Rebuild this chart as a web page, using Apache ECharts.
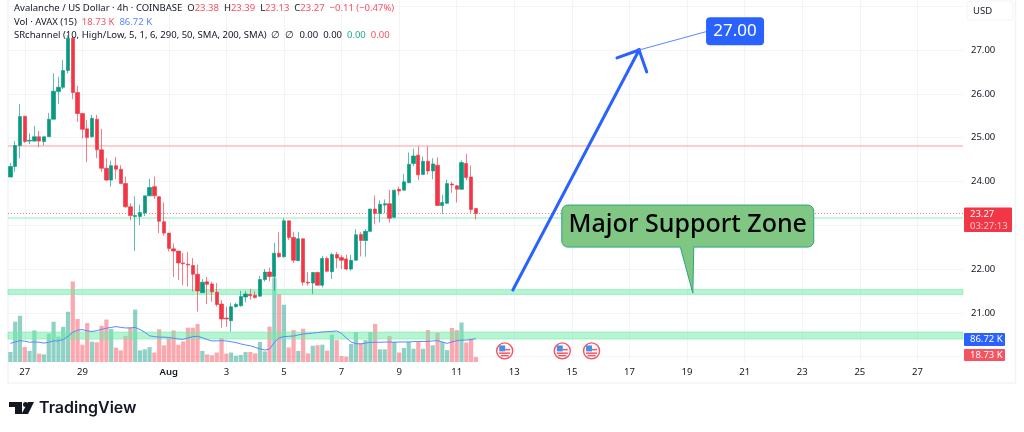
<!DOCTYPE html>
<html>
<head>
<meta charset="utf-8">
<style>
  html, body { margin: 0; padding: 0; background: #fff; }
  #chart { width: 1024px; height: 432px; }
</style>
<script src="https://cdn.jsdelivr.net/npm/echarts@6/dist/echarts.min.js"></script>
</head>
<body>
<div id="chart"></div>
<script>
// 4h candles
const opens = [24.10,24.34,24.82,25.49,24.92,24.92,25.02,24.91,25.02,25.42,26.05,26.15,26.53,27.27,26.03,25.55,25.20,25.02,25.42,24.72,24.30,24.03,24.36,24.28,23.95,23.42,23.20,23.20,23.28,23.67,23.88,23.65,23.08,22.82,22.46,22.41,22.14,22.11,22.08,21.88,21.46,21.71,21.66,21.47,21.20,20.88,20.82,21.14,21.16,21.36,21.42,21.40,21.38,21.76,21.93,21.83,22.36,22.28,23.10,22.72,22.19,22.69,21.70,21.68,21.92,21.63,22.24,21.94,22.33,22.26,22.23,22.00,22.20,22.79,22.65,22.86,23.37,23.27,23.46,23.49,23.18,23.82,23.80,23.97,24.41,24.60,24.16,24.46,24.24,24.37,23.45,23.50,23.94,23.90,23.82,24.41,24.10,23.38];
const closes = [24.34,24.82,25.48,24.91,24.94,25.02,24.92,25.02,25.42,26.06,26.15,26.53,27.27,26.03,25.55,25.19,25.00,25.44,24.72,24.30,24.03,24.36,24.28,23.95,23.42,23.22,23.22,23.29,23.67,23.86,23.67,23.09,22.82,22.47,22.41,22.14,22.12,22.09,21.88,21.50,21.70,21.65,21.48,21.19,20.86,20.86,21.14,21.19,21.37,21.43,21.39,21.35,21.76,21.93,21.83,22.36,22.28,23.10,22.72,22.20,22.69,21.70,21.68,21.92,21.63,22.24,21.95,22.33,22.25,22.20,22.00,22.20,22.78,22.65,22.86,23.37,23.27,23.48,23.49,23.16,23.80,23.78,23.99,24.39,24.58,24.15,24.46,24.24,24.40,23.45,23.52,23.95,23.92,23.82,24.43,24.09,23.36,23.27];
const lows = [24.10,24.22,24.53,24.88,24.85,24.91,24.78,24.82,25.02,25.42,25.77,26.11,26.47,25.88,25.36,24.98,24.44,25.00,24.53,24.22,24.01,23.88,24.05,23.95,23.40,23.11,22.41,23.00,23.21,23.67,23.60,22.82,22.76,22.40,21.82,21.75,21.63,21.60,21.49,21.03,21.46,21.20,21.25,21.14,20.66,20.68,20.57,21.12,21.14,21.24,21.30,21.32,21.37,21.71,21.72,21.50,22.26,22.26,22.66,22.14,22.19,21.62,21.62,21.43,21.63,21.58,21.92,21.77,22.02,22.00,21.98,21.96,22.20,22.29,22.28,22.86,23.02,23.06,23.27,23.06,23.16,23.68,23.80,23.96,24.35,24.03,24.15,24.16,24.05,23.45,23.26,23.49,23.74,23.52,23.82,24.03,23.27,23.13];
const highs = [24.42,24.92,25.77,25.49,25.10,25.27,25.15,25.02,25.56,26.47,26.39,26.77,27.34,27.30,26.18,25.55,25.40,25.52,25.52,25.20,24.53,24.47,24.56,24.37,24.11,23.50,23.66,23.47,23.67,24.06,24.11,23.66,23.52,22.82,22.58,22.41,22.37,22.39,22.25,22.10,21.77,21.82,21.71,21.68,21.29,21.14,21.23,21.23,21.50,21.50,21.55,21.49,21.84,22.00,22.03,22.60,22.84,23.16,23.10,22.84,22.84,22.69,21.93,21.93,21.94,22.30,22.28,22.37,22.39,22.32,22.33,22.32,22.91,22.84,22.91,23.37,23.68,23.57,23.59,23.81,23.81,23.88,24.17,24.66,24.75,24.80,24.57,24.80,24.53,24.55,23.70,24.04,23.99,23.92,24.48,24.63,24.36,23.39];
// volume in thousands and its 15 period average
const volumes = [37,149,171,55,41,117,31,28,105,149,94,130,186,298,159,64,144,75,73,134,157,122,53,43,97,128,194,43,47,55,35,121,62,88,117,64,76,127,127,141,41,28,25,35,88,31,35,23,26,37,37,32,74,39,131,313,252,212,54,118,41,123,32,60,62,64,42,101,81,22,20,67,111,69,81,111,141,47,47,96,74,35,52,74,49,76,49,118,62,108,74,44,126,118,146,72,86,18.73];
const volumeMA = [69,74,79,77,73,74,73,70,73,78,78,83,95,110,118,120,115,113,116,121,125,128,131,128,126,126,128,120,110,97,94,92,92,91,88,85,84,89,94,95,90,83,78,78,79,78,75,72,67,63,60,54,49,44,48,73,89,94,95,96,100,104,105,107,109,111,112,113,115,106,89,74,68,67,70,73,73,73,74,74,73,74,74,74,76,76,76,76,78,79,74,69,74,79,81,81,83,86.72];

const barCount = 199;
const xTickIndex = [3,15,33,45,57,69,81,93,105,117,129,141,153,165,177,189];
const xTickLabels = ['27','29','Aug','3','5','7','9','11','13','15','17','19','21','23','25','27'];
const yGridValues = [20,21,22,23,24,25,26,27,28];
const yTickLabels = [21,22,24,25,26,27];

const lastPrice = 23.27;
const resistanceLevel = 24.81;
const upperSupportLine = 23.17;
const supportBands = [[21.42,21.53],[20.40,20.56]];
const eventFlags = [103.0,115.0,121.1];

const categories = [];
for (let i = 0; i < barCount; i++) categories.push(String(i));
const candleData = opens.map((o, i) => [o, closes[i], lows[i], highs[i]]);

const UP = '#089981', DOWN = '#f23645', BLUE = '#2962ff', INK = '#131722';
const FONT = '"Noto Sans", sans-serif';
const GRID_LINE = '#f2f4f8';

function renderAnnotations(params, api) {
  const pt = (x, y) => api.coord([x, y]);
  const kids = [];
  const line = (points, width, color) => kids.push({ type: 'polyline', shape: { points }, style: { stroke: color, lineWidth: width, fill: null, lineCap: 'round' } });

  // blue arrow up to 27
  const tip = pt(131.0, 27);
  line([pt(104.7, 21.52), tip], 3, BLUE);
  line([pt(126.4, 26.82), tip, pt(132.6, 26.5)], 3, BLUE);
  kids.push({ type: 'circle', shape: { cx: tip[0], cy: tip[1], r: 2 }, style: { fill: BLUE } });

  // 27.00 tag with leader
  const tag = pt(151.0, 27.43);
  line([tip, pt(145.0, 27.42)], 1, '#5b87ff');
  kids.push({ type: 'rect', shape: { x: tag[0] - 29, y: tag[1] - 14, width: 58, height: 28, r: 4 }, style: { fill: BLUE } });
  kids.push({ type: 'text', style: { text: '27.00', x: tag[0], y: tag[1], align: 'center', verticalAlign: 'middle', fill: '#fff', font: '17px ' + FONT } });

  // callout
  const a = pt(114.9, 23.46), b = pt(167.4, 22.5);
  const p1 = pt(139.6, 22.5), p2 = pt(142.4, 22.5), p3 = pt(142.2, 21.45);
  kids.push({ type: 'rect', shape: { x: a[0], y: a[1], width: b[0] - a[0], height: b[1] - a[1], r: 6 }, style: { fill: '#81c784', stroke: '#26a67f', lineWidth: 1 } });
  kids.push({ type: 'polygon', shape: { points: [p1, p3, p2] }, style: { fill: '#81c784', stroke: '#26a67f', lineWidth: 1 } });
  line([[p1[0] + 1, p1[1]], [p2[0] - 1, p2[1]]], 2, '#81c784');
  kids.push({ type: 'text', style: { text: 'Major Support Zone', x: (a[0] + b[0]) / 2, y: (a[1] + b[1]) / 2 - 1, align: 'center', verticalAlign: 'middle', fill: '#000', font: '500 25px ' + FONT } });

  // economic event flags
  eventFlags.forEach((idx) => {
    const c = pt(idx, 20.13);
    kids.push({ type: 'circle', shape: { cx: c[0], cy: c[1], r: 8 }, style: { fill: '#fff', stroke: '#f7525f', lineWidth: 1.4 } });
    kids.push({ type: 'rect', shape: { x: c[0] - 5.5, y: c[1] + 1.5, width: 11, height: 1.5 }, style: { fill: '#f7525f' } });
    kids.push({ type: 'rect', shape: { x: c[0] - 4, y: c[1] + 4, width: 8, height: 1.5 }, style: { fill: '#f7525f' } });
    kids.push({ type: 'rect', shape: { x: c[0] + 0.5, y: c[1] - 2, width: 5, height: 1.5 }, style: { fill: '#f7525f' } });
    kids.push({ type: 'rect', shape: { x: c[0] - 5.5, y: c[1] - 5.5, width: 6, height: 6 }, style: { fill: '#4a90e2' } });
  });
  return { type: 'group', children: kids };
}

const hdr = (c) => ({ fill: c, font: '9.5px ' + FONT });
const headerRich = { k: hdr(INK), r: hdr('#f7525f'), b: hdr('#5b87ff'), g: hdr('#22ab94') };

function tagBox(y, h, w, color) {
  return { type: 'rect', shape: { x: 964, y, width: w, height: h, r: 1 }, style: { fill: color }, z: 20 };
}
function tagText(x, y, text, fill) {
  return { type: 'text', x, y, style: { text, fill, font: '9.5px ' + FONT, verticalAlign: 'middle' }, z: 21 };
}

const option = {
  animation: false,
  backgroundColor: '#fff',
  grid: { left: 8, top: 0, width: 955, height: 362, containLabel: false },
  xAxis: [
    {
      type: 'category',
      data: categories,
      boundaryGap: true,
      axisLine: { show: false },
      axisTick: { show: false },
      axisLabel: {
        interval: (i) => xTickIndex.includes(i),
        margin: 5,
        color: INK,
        fontFamily: FONT,
        fontSize: 9.5,
        formatter: (v, i) => {
          const label = xTickLabels[xTickIndex.indexOf(i)];
          return label === 'Aug' ? '{m|Aug}' : label;
        },
        rich: { m: { fontWeight: 600, color: INK, fontFamily: FONT, fontSize: 9.5 } },
      },
      splitLine: { show: true, alignWithLabel: true, interval: (i) => xTickIndex.includes(i), lineStyle: { color: GRID_LINE, width: 1 } },
    },
    { type: 'value', show: false, min: -0.5, max: barCount - 0.5 },
  ],
  yAxis: [
    {
      type: 'value',
      position: 'right',
      min: 19.877,
      max: 28.1416,
      axisLine: { show: false },
      axisTick: { show: false, customValues: yGridValues },
      axisLabel: {
        customValues: yTickLabels,
        margin: 8,
        color: INK,
        fontFamily: FONT,
        fontSize: 9.5,
        formatter: (v) => v.toFixed(2),
      },
      splitLine: { show: true, lineStyle: { color: GRID_LINE, width: 1 } },
    },
    { type: 'value', show: false, min: 0, max: 1339.4, splitLine: { show: false } },
  ],
  series: [
    {
      name: 'Volume',
      type: 'bar',
      xAxisIndex: 0,
      yAxisIndex: 1,
      z: 1,
      barWidth: 4.2,
      data: volumes.map((v, i) => ({
        value: v,
        itemStyle: { color: closes[i] >= opens[i] ? 'rgba(8,153,129,0.45)' : 'rgba(247,82,95,0.5)' },
      })),
    },
    {
      name: 'Volume MA',
      type: 'line',
      xAxisIndex: 0,
      yAxisIndex: 1,
      z: 3,
      data: volumeMA,
      showSymbol: false,
      smooth: false,
      lineStyle: { color: '#5b87ff', width: 1 },
    },
    {
      name: 'AVAXUSD',
      type: 'candlestick',
      xAxisIndex: 0,
      yAxisIndex: 0,
      z: 4,
      barWidth: 3.8,
      data: candleData,
      itemStyle: { color: UP, color0: DOWN, borderColor: 'rgba(8,153,129,0.65)', borderColor0: 'rgba(242,54,69,0.65)', borderWidth: 1 },
      markArea: {
        silent: true,
        z: 2,
        itemStyle: { color: 'rgba(110,235,165,0.5)', borderColor: 'rgba(110,235,165,0.55)', borderWidth: 1 },
        data: supportBands.map((b) => [{ yAxis: b[1] }, { yAxis: b[0] }]),
      },
      markLine: {
        silent: true,
        z: 2,
        symbol: 'none',
        label: { show: false },
        data: [
          { yAxis: resistanceLevel, lineStyle: { color: '#ffbcbc', width: 1.5, type: 'solid' } },
          { yAxis: upperSupportLine, lineStyle: { color: '#b2f5d5', width: 1.5, type: 'solid' } },
          { yAxis: lastPrice, lineStyle: { color: '#f7808a', width: 1, type: [1, 2] } },
        ],
      },
    },
    {
      name: 'Annotations',
      type: 'custom',
      xAxisIndex: 1,
      yAxisIndex: 0,
      z: 6,
      clip: false,
      silent: true,
      data: [[0, 24]],
      renderItem: renderAnnotations,
    },
  ],
  graphic: [
    // chart frame
    { type: 'polyline', shape: { points: [[8, 0], [8, 383], [1015.5, 383], [1015.5, 0]] }, style: { stroke: '#f0f3fa', lineWidth: 1.5, fill: null }, z: 0 },
    // legend lines
    { type: 'text', x: 14, y: 8, z: 30, style: { verticalAlign: 'middle', rich: headerRich, text: '{k|Avalanche / US Dollar · 4h · COINBASE  O}{r|23.38}{k|  H}{r|23.39}{k|  L}{r|23.13}{k|  C}{r|23.27  −0.11 (−0.47%)}' } },
    { type: 'text', x: 14, y: 22, z: 30, style: { verticalAlign: 'middle', rich: headerRich, text: '{k|Vol · AVAX (15)  }{r|18.73 K}{b|  86.72 K}' } },
    { type: 'text', x: 14, y: 35, z: 30, style: { verticalAlign: 'middle', rich: headerRich, text: '{k|SRchannel (10, High/Low, 5, 1, 6, 290, 50, SMA, 200, SMA)  ∅  ∅  0.00  0.00  }{g|0.00}{r|  0.00}' } },
    // USD button
    { type: 'rect', shape: { x: 967, y: 1, width: 46, height: 19, r: 3 }, style: { fill: '#fff', stroke: '#f0f3fa', lineWidth: 1 }, z: 20 },
    tagText(973, 11, 'USD', INK),
    // price scale tags
    tagBox(207.5, 24.5, 48, DOWN),
    tagText(970, 214, '23.27', '#fff'),
    tagText(970, 226, '03:27:13', '#fbc8cd'),
    tagBox(333, 13, 41, BLUE),
    tagText(970, 339.5, '86.72 K', '#fff'),
    tagBox(349, 12, 41, '#f7525f'),
    tagText(970, 355, '18.73 K', '#fff'),
    // TradingView logo
    { type: 'polygon', shape: { points: [[9, 402], [22, 402], [22, 414], [15, 414], [15, 407], [9, 407]] }, style: { fill: INK }, z: 20 },
    { type: 'circle', shape: { cx: 25.5, cy: 404.5, r: 2.5 }, style: { fill: INK }, z: 20 },
    { type: 'polygon', shape: { points: [[28, 402], [34, 402], [28, 414], [21.5, 414]] }, style: { fill: INK }, z: 20 },
    { type: 'text', x: 39, y: 408, z: 20, style: { text: 'TradingView', fill: INK, font: '600 16px Inter, sans-serif', verticalAlign: 'middle' } },
  ],
};

const chart = echarts.init(document.getElementById('chart'), null, { renderer: 'canvas' });
chart.setOption(option);
</script>
</body>
</html>
